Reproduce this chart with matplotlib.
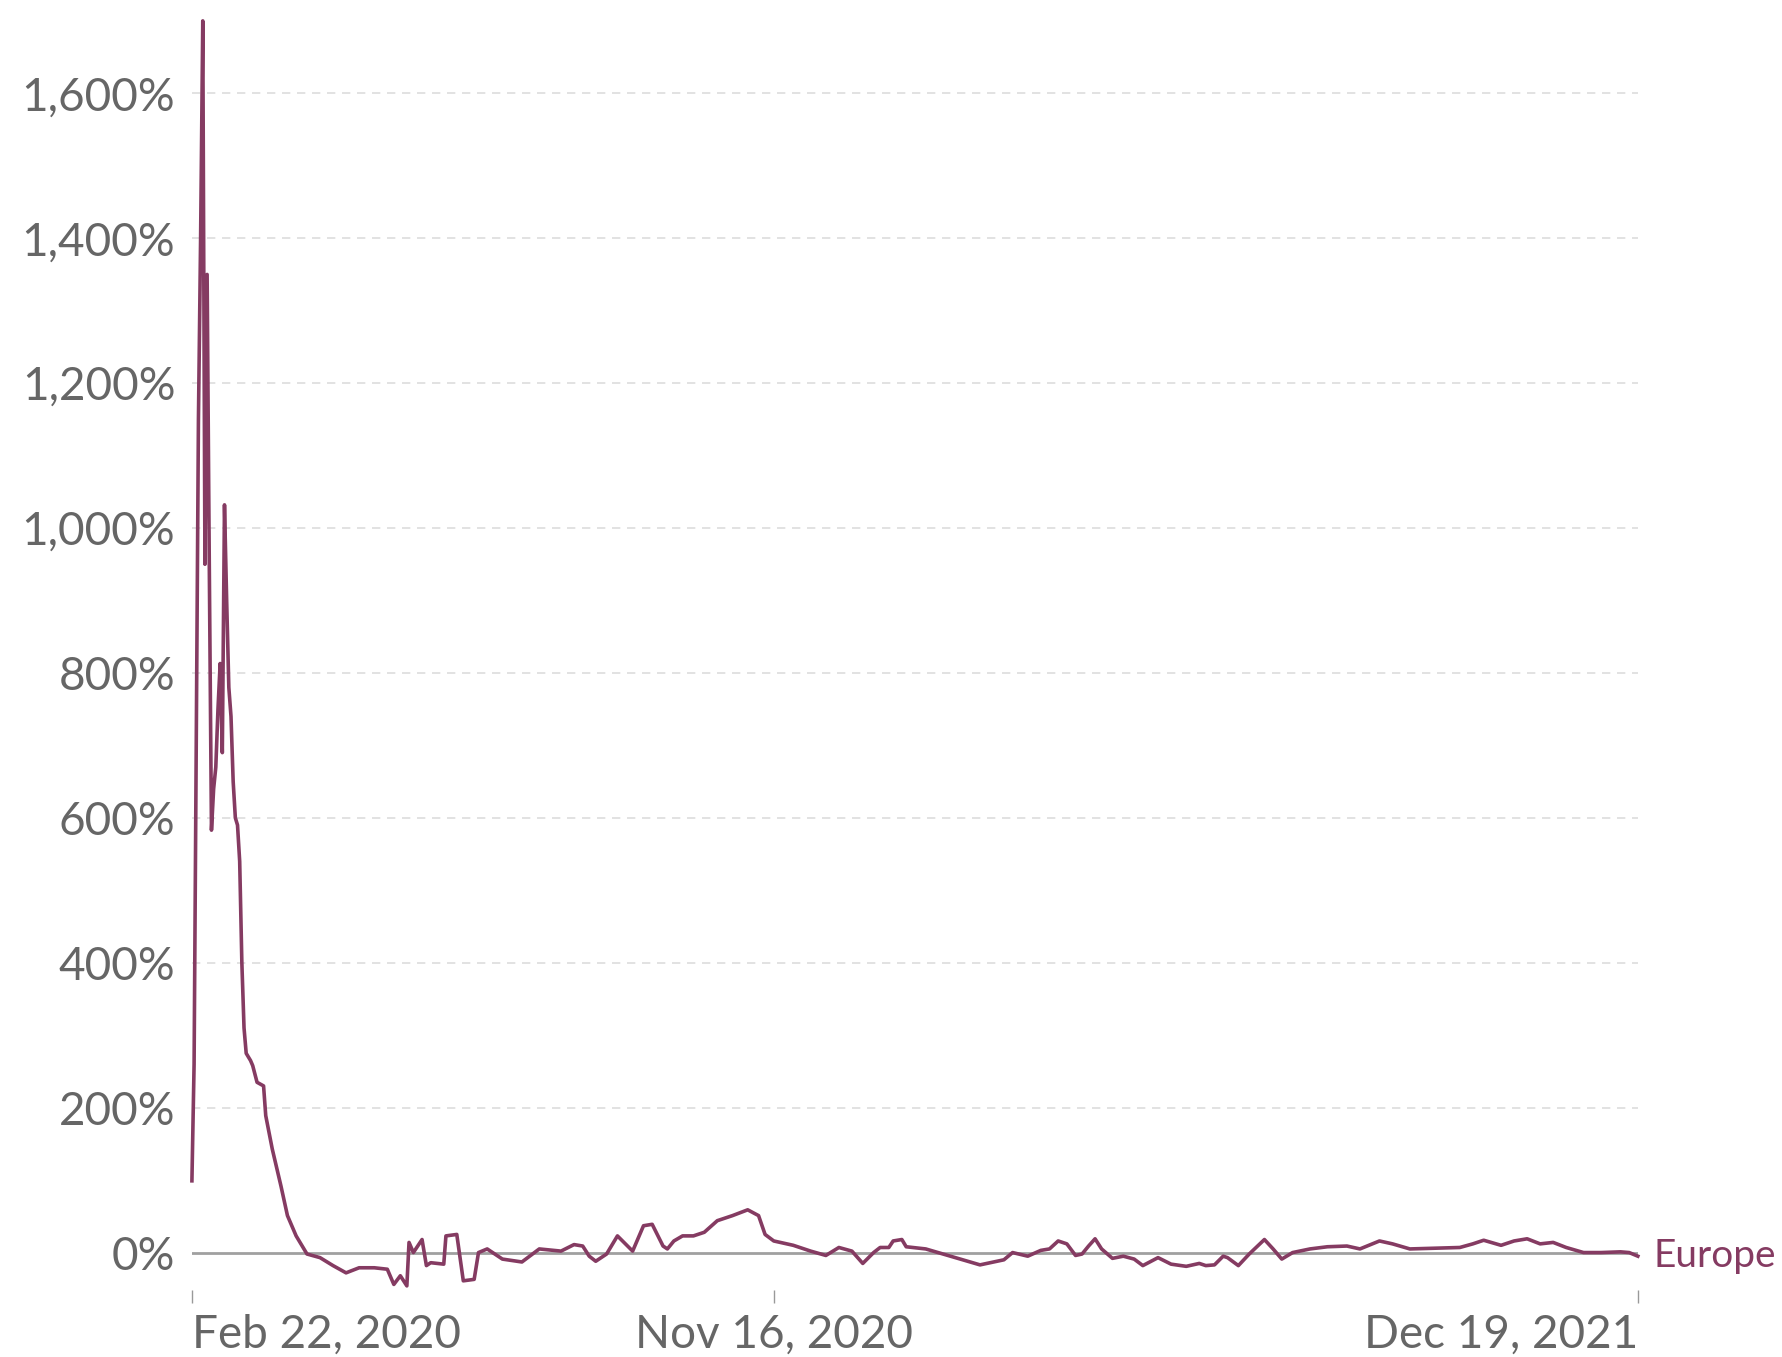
import numpy as np
import matplotlib
matplotlib.use("Agg")
import matplotlib.pyplot as plt
from matplotlib.ticker import FuncFormatter

plt.rcParams['font.family'] = ['Lato', 'DejaVu Sans']

# days after Feb 22, 2020 and the change in %
start = np.datetime64('2020-02-22')
days = [0, 1, 2, 3, 4, 5, 6, 7, 8, 9, 10, 11, 12, 13, 14, 15, 16, 17, 18, 19,
        20, 21, 22, 23, 24, 25, 27, 28, 30, 33, 34, 37, 41, 44, 48, 53, 59, 65,
        71, 77, 84, 90, 93, 96, 99, 100, 102, 104, 106, 108, 110, 116, 117, 122,
        125, 130, 132, 136, 143, 152, 160, 170, 176, 180, 183, 186, 191, 196,
        203, 208, 212, 217, 219, 222, 226, 231, 236, 242, 249, 256, 261, 264,
        268, 277, 285, 292, 298, 304, 309, 314, 317, 321, 323, 327, 329, 338,
        346, 355, 363, 374, 378, 385, 391, 395, 399, 403, 407, 410, 413, 416,
        419, 424, 429, 434, 438, 445, 451, 458, 464, 467, 471, 475, 477, 482,
        487, 494, 498, 502, 507, 515, 523, 532, 538, 547, 553, 561, 572, 584,
        590, 595, 603, 609, 615, 621, 627, 633, 641, 649, 658, 662, 666]
europe = [99, 260, 700, 1150, 1400, 1700, 950, 1350, 950, 583, 640, 670, 750,
          813, 690, 1032, 900, 780, 740, 650, 600, 590, 540, 400, 310, 275, 265,
          258, 235, 230, 189, 143, 92, 51, 23, -2, -7, -18, -28, -21, -21, -23,
          -44, -32, -46, 14, 0, 9, 18, -18, -14, -16, 23, 25, -39, -37, 0, 5,
          -9, -13, 5, 2, 11, 9, -5, -12, -2, 23, 2, 37, 39, 9, 5, 16, 23, 23,
          28, 44, 51, 59, 51, 25, 16, 10, 2, -4, 7, 2, -15, 0, 7, 7, 16, 18, 8,
          5, -2, -10, -17, -10, 0, -5, 3, 5, 16, 12, -4, -2, 9, 19, 5, -8, -5,
          -9, -18, -7, -16, -19, -15, -18, -17, -5, -7, -18, -2, 18, 5, -9, 0,
          5, 8, 9, 5, 16, 12, 5, 6, 7, 12, 17, 10, 16, 19, 12, 14, 7, 0, 0, 1,
          0, -5]
yticks = [0, 200, 400, 600, 800, 1000, 1200, 1400, 1600]
xtick_dates = ['2020-02-22', '2020-11-16', '2021-12-19']
xtick_labels = ['Feb 22, 2020', 'Nov 16, 2020', 'Dec 19, 2021']

line_color = '#853b62'
text_gray = '#666666'

dates = start + np.array(days).astype('timedelta64[D]')

fig = plt.figure(figsize=(17.82, 13.57), dpi=100)
ax = fig.add_axes([0.1077, 0.0492, 0.8114, 0.9461])

for v in yticks[1:]:
    ax.axhline(v, color='#dddddd', linewidth=1.2, linestyle=(0, (5, 4)), zorder=1)
ax.axhline(0, color='#a0a0a0', linewidth=2, zorder=2)

ax.plot(dates, europe, color=line_color, linewidth=2.6, zorder=3,
        clip_on=False, solid_joinstyle='round')

ax.set_xlim(np.datetime64(xtick_dates[0]), np.datetime64(xtick_dates[-1]))
ax.set_ylim(-52, 1720)

ax.set_yticks(yticks)
ax.yaxis.set_major_formatter(FuncFormatter(lambda v, p: f"{v:,.0f}%"))
ax.tick_params(axis='y', length=0, pad=12, labelsize=33, labelcolor=text_gray)

ax.set_xticks([np.datetime64(d) for d in xtick_dates])
ax.set_xticklabels(xtick_labels)
ax.tick_params(axis='x', direction='out', length=9, width=1, color='#999999',
               pad=8, labelsize=33, labelcolor=text_gray)
for lbl, ha in zip(ax.get_xticklabels(), ['left', 'center', 'right']):
    lbl.set_horizontalalignment(ha)

for s in ax.spines.values():
    s.set_visible(False)

ax.annotate('Europe', xy=(dates[-1], europe[-1]), xytext=(11, 0),
            textcoords='offset points', va='center', ha='left',
            fontsize=28, color=line_color, annotation_clip=False)

fig.savefig('out.png', dpi=100, facecolor='white')
